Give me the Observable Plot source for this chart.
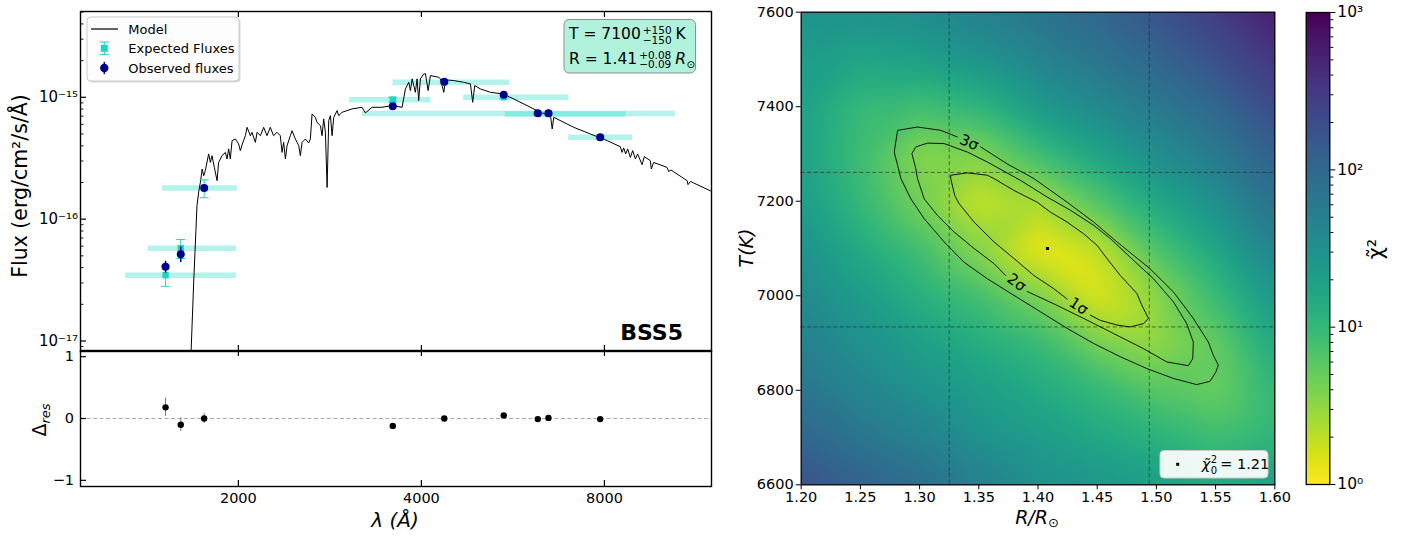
<!DOCTYPE html>
<html><head><meta charset="utf-8">
<script src="https://cdn.jsdelivr.net/npm/d3@7"></script>
<script src="https://cdn.jsdelivr.net/npm/@observablehq/plot@0.6"></script>
<style>
body{margin:0;background:#fff;}
#wrap{position:relative;width:1408px;height:537px;font-family:"DejaVu Sans",sans-serif;color:#000;overflow:hidden;background:#fff}
svg{overflow:visible}
</style></head><body><div id="wrap"></div>
<script>
// ---------------- SED data ----------------
const filterWave = [1518, 1608, 1757, 3589, 4362, 5464, 6216, 6472, 7872];
const bandLo = [1305, 1422, 1501, 3048, 3594, 4694, 3196, 5496, 6990];
const bandHi = [1985, 1987, 1992, 4150, 5593, 6993, 10470, 8685, 8904];
const obsFlux = [4.06e-17, 5.16e-17, 1.80e-16, 8.43e-16, 1.34e-15, 1.05e-15, 7.39e-16, 7.39e-16, 4.69e-16];
const obsErr = [0.45e-17, 0.75e-17, 0.8e-17, 1.0e-17, 1.5e-17, 1.2e-17, 0.8e-17, 0.8e-17, 0.6e-17];
const expFlux = [3.47e-17, 5.78e-17, 1.80e-16, 9.57e-16, 1.33e-15, 1.00e-15, 7.35e-16, 7.30e-16, 4.69e-16];
const expErr = [0.66e-17, 1.03e-17, 0.30e-16, 0.45e-16, 0.3e-16, 0.25e-16, 0.15e-16, 0.15e-16, 0.12e-16];
const residual = [0.18, -0.10, 0.00, -0.12, 0.00, 0.05, -0.01, 0.01, -0.01];
const residualErr = [0.15, 0.11, 0.08, 0.02, 0.015, 0.015, 0.01, 0.01, 0.01];

// model spectrum: wavelength (Å) and flux in units of 1e-16 erg/cm2/s/Å
const modelWave = [1671,1689,1703,1710,1722,1732,1744,1754,1765,1787,1799,1810,1826,1845,1856,1880,1904,1916,1928,1940,1953,1977,2002,2015,2033,2054,2067,2093,2106,2133,2147,2174,2201,2229,2257,2285,2315,2344,2360,2374,2390,2405,2435,2451,2482,2514,2529,2546,2578,2610,2627,2644,2677,2694,2729,2746,2763,2781,2799,2816,2834,2852,2870,2907,2924,2962,3076,3195,3235,3318,3446,3580,3718,3765,3813,3837,3862,3910,3935,3959,3985,4036,4062,4103,4139,4271,4299,4354,4382,4521,4695,4816,4858,4895,5001,5196,5431,5674,5968,6279,6522,6564,6603,7122,7585,8083,8497,8552,8604,8670,8736,8825,8903,8995,9072,9225,9306,9518,9555,9639,10141,10202,10296,10940,10980,11077,11946,12100];
const modelFlux16 = [0.075,0.311,0.802,1.29,1.71,2.00,2.58,2.27,2.50,3.43,2.92,3.32,2.66,2.07,2.92,3.32,3.53,3.12,3.77,3.12,4.41,4.55,4.14,3.65,4.22,4.84,5.67,4.84,5.16,4.27,5.16,4.84,5.67,4.84,5.67,4.84,5.16,4.84,3.53,4.27,3.12,4.01,4.84,5.32,4.55,4.01,3.32,4.27,4.55,4.22,4.55,7.30,6.85,6.23,5.85,4.84,6.65,5.16,1.82,6.44,7.07,4.84,6.85,7.78,7.07,7.53,8.03,8.28,7.44,8.28,8.28,8.55,8.28,11.72,13.28,11.35,14.17,10.99,14.17,9.40,14.17,15.57,15.57,11.35,15.08,14.6,14.17,10.99,13.9,13.72,13.28,12.89,9.10,12.48,11.72,10.99,10.67,9.70,8.55,7.53,7.07,5.50,6.85,5.67,5.00,4.41,3.93,3.53,3.84,3.43,3.77,3.21,3.65,3.12,3.43,2.80,3.26,3.02,2.58,2.92,2.66,2.46,2.53,2.07,1.92,2.04,1.71,1.66];

const sedXTicks = [2000, 4000, 8000];
const sedYTicks = [1e-17, 1e-16, 1e-15];
const resYTicks = [-1, 0, 1];
const starName = "BSS5";
const fitT = 7100, fitTp = 150, fitTm = 150;
const fitR = "1.41", fitRp = "0.08", fitRm = "0.09";

// ---------------- chi2 map data ----------------
const gridR = [1.20, 1.25, 1.30, 1.35, 1.40, 1.45, 1.50, 1.55, 1.60];
const gridT = [7600, 7500, 7400, 7300, 7200, 7100, 7000, 6900, 6800, 6700, 6600];
const chi2Rows = [
  [28, 30, 36, 50, 70, 105, 165, 290, 600],
  [22, 17, 20, 28, 45, 68, 105, 175, 340],
  [19, 9.5, 8, 11, 24, 38, 60, 100, 210],
  [19, 8.5, 3.4, 3.6, 8.5, 18, 33, 58, 125],
  [22, 10, 4.2, 1.7, 2.4, 6.5, 16, 32, 80],
  [30, 15, 8, 3.4, 1.15, 1.9, 7, 17, 48],
  [38, 22, 13, 8, 4.0, 1.4, 3.3, 9, 26],
  [50, 31, 20, 14, 9.5, 4.2, 3.0, 5, 16],
  [68, 44, 30, 21, 15, 10, 6, 4.8, 11],
  [105, 68, 48, 30, 22, 16, 12, 8.5, 11],
  [175, 120, 85, 50, 32, 26, 21, 16, 20]
];
const bestR = 1.408, bestT = 7100, bestChi2 = 1.21;
const sigmaR = [1.325, 1.494];
const sigmaT = [6934, 7261];
const contour1 = [[1.4442,6959],[1.4526,6948],[1.4667,6938],[1.4779,6934],[1.4891,6941],[1.4933,6952],[1.4877,6980],[1.4835,7005],[1.4695,7043],[1.4582,7079],[1.4498,7107],[1.4386,7131],[1.4246,7156],[1.4105,7177],[1.3993,7198],[1.3796,7223],[1.3628,7248],[1.3572,7255],[1.3404,7260],[1.3263,7255],[1.3263,7248],[1.3297,7212],[1.3333,7195],[1.3460,7156],[1.3628,7114],[1.3796,7079],[1.3965,7043],[1.4133,7015],[1.4246,6993]];
const contour2 = [[1.3909,7009],[1.4133,6983],[1.4386,6952],[1.4639,6920],[1.4891,6888],[1.5088,6860],[1.5270,6852],[1.5307,6867],[1.5312,6902],[1.5256,6941],[1.5144,6987],[1.4975,7036],[1.4807,7075],[1.4611,7121],[1.4470,7149],[1.4274,7181],[1.4077,7209],[1.3853,7244],[1.3572,7283],[1.3404,7304],[1.3207,7322],[1.3067,7323],[1.2968,7315],[1.2935,7301],[1.2968,7269],[1.2982,7248],[1.3039,7205],[1.3151,7170],[1.3291,7135],[1.3460,7100],[1.3628,7068],[1.3726,7043]];
const contour3 = [[1.3516,7315],[1.3740,7279],[1.3965,7248],[1.4246,7198],[1.4470,7156],[1.4667,7114],[1.4947,7057],[1.5144,7008],[1.5312,6952],[1.5439,6902],[1.5481,6874],[1.5523,6853],[1.5503,6839],[1.5453,6819],[1.5340,6812],[1.5144,6825],[1.4919,6846],[1.4695,6871],[1.4470,6899],[1.4246,6931],[1.4021,6966],[1.3796,7001],[1.3572,7036],[1.3375,7071],[1.3207,7114],[1.3039,7163],[1.2926,7205],[1.2842,7248],[1.2786,7304],[1.2814,7350],[1.2982,7357],[1.3179,7350],[1.3319,7336]];
const contourLabelText = ["1σ", "2σ", "3σ"];
const contourLabelR = [1.4344, 1.3819, 1.3418];
const contourLabelT = [6978, 7028, 7324];
const contourLabelAngle = [33, 36, 23];
const mapXTicks = [1.20, 1.25, 1.30, 1.35, 1.40, 1.45, 1.50, 1.55, 1.60];
const mapYTicks = [6600, 6800, 7000, 7200, 7400, 7600];
const cbarTicks = [1, 10, 100, 1000];

// ---------------- build ----------------
const FONT = "DejaVu Sans";
const TURQ = "#40e0d0", TURQ2 = "#22d3bd", NAVY = "#00008b";
const wrap = document.getElementById("wrap");
function place(svg, left, top){ svg.style.position="absolute"; svg.style.left=left+"px"; svg.style.top=top+"px"; wrap.appendChild(svg); }
const SUP = {"0":"⁰","1":"¹","2":"²","3":"³","4":"⁴","5":"⁵","6":"⁶","7":"⁷","8":"⁸","9":"⁹","-":"⁻"};
const pow10 = v => "10" + String(Math.round(Math.log10(v))).split("").map(c=>SUP[c]).join("");
const minus = d => d < 0 ? "−" + Math.abs(d) : String(d);
const capSym = {draw(ctx, size){ const w = Math.sqrt(size); ctx.moveTo(-w,0); ctx.lineTo(w,0); }};
const capR = 4.5 / Math.sqrt(Math.PI);

const pts = filterWave.map((w,i)=>({w, lo:bandLo[i], hi:bandHi[i], obs:obsFlux[i], oe:obsErr[i], exp:expFlux[i], ee:expErr[i], res:residual[i], re:residualErr[i]}));
const model = modelWave.map((w,i)=>({w, f:modelFlux16[i]*1e-16}));

const xDom = [1100, 12000];
const topW = 720, topH = 351, mL = 80, mR = 9, mT = 11;
const topFW = topW - mL - mR, topFH = topH - mT;
const minorY = [];
for (let e = -18; e <= -15; e++) for (let m = 2; m <= 9; m++) { const v = m * Math.pow(10, e); if (v > 8.2e-18 && v < 5.06e-15) minorY.push(v); }

const topPlot = Plot.plot({
  width: topW, height: topH, marginLeft: mL, marginRight: mR, marginTop: mT, marginBottom: 0,
  style: {fontFamily: FONT, fontSize: "14.5px", color: "black", background: "transparent"},
  x: {type: "log", domain: xDom, axis: null},
  y: {type: "log", domain: [8.2e-18, 5.06e-15]},
  marks: [
    Plot.ruleY(pts, {x1: "lo", x2: "hi", y: "exp", stroke: TURQ, strokeOpacity: 0.4, strokeWidth: 5.5}),
    Plot.line(model, {x: "w", y: "f", stroke: "black", strokeWidth: 1, clip: true}),
    Plot.ruleX(pts, {x: "w", y1: d=>d.exp-d.ee, y2: d=>d.exp+d.ee, stroke: TURQ2, strokeWidth: 1}),
    Plot.dot(pts, {x: "w", y: d=>d.exp-d.ee, symbol: capSym, r: capR, stroke: TURQ2, strokeWidth: 1, fill: "none"}),
    Plot.dot(pts, {x: "w", y: d=>d.exp+d.ee, symbol: capSym, r: capR, stroke: TURQ2, strokeWidth: 1, fill: "none"}),
    Plot.dot(pts, {x: "w", y: "exp", symbol: "square", r: 3.6, fill: TURQ2, stroke: "none"}),
    Plot.ruleX(pts, {x: "w", y1: d=>d.obs-d.oe, y2: d=>d.obs+d.oe, stroke: NAVY, strokeWidth: 1.5}),
    Plot.dot(pts, {x: "w", y: "obs", r: 4, fill: NAVY, stroke: "none"}),
    Plot.tickY(sedYTicks, {y: d=>d, insetRight: topFW - 6, stroke: "black", strokeWidth: 1.2}),
    Plot.tickY(minorY, {y: d=>d, insetRight: topFW - 3.5, stroke: "black", strokeWidth: 0.9}),
    Plot.tickX(sedXTicks, {x: d=>d, insetBottom: topFH - 6, stroke: "black", strokeWidth: 1.2}),
    Plot.tickX(sedXTicks, {x: d=>d, insetTop: topFH - 6, stroke: "black", strokeWidth: 1.2}),
    Plot.frame({stroke: "black", strokeWidth: 1.4}),
    Plot.axisY({ticks: sedYTicks, tickFormat: pow10, tickSize: 0, tickPadding: 2.5, fontSize: 15, label: null})
  ]
});
place(topPlot, 0, 0);

const botH = 187, botMB = 51, botFH = botH - botMB;
const botPlot = Plot.plot({
  width: topW, height: botH, marginLeft: mL, marginRight: mR, marginTop: 0, marginBottom: botMB,
  style: {fontFamily: FONT, fontSize: "14.5px", color: "black", background: "transparent"},
  x: {type: "log", domain: xDom},
  y: {domain: [-1.1, 1.1]},
  marks: [
    Plot.ruleY([0], {stroke: "#aaaaaa", strokeWidth: 1, strokeDasharray: "4,2.5"}),
    Plot.ruleX(pts, {x: "w", y1: d=>d.res-d.re, y2: d=>d.res+d.re, stroke: "#777", strokeWidth: 1}),
    Plot.dot(pts, {x: "w", y: "res", r: 3.2, fill: "black", stroke: "none"}),
    Plot.tickY(resYTicks, {y: d=>d, insetRight: topFW - 6, stroke: "black", strokeWidth: 1.2}),
    Plot.tickX(sedXTicks, {x: d=>d, insetBottom: botFH - 6, stroke: "black", strokeWidth: 1.2}),
    Plot.tickX(sedXTicks, {x: d=>d, insetTop: botFH - 6, stroke: "black", strokeWidth: 1.2}),
    Plot.frame({stroke: "black", strokeWidth: 1.4}),
    Plot.axisY({ticks: resYTicks, tickFormat: minus, tickSize: 0, tickPadding: 6.5, fontSize: 14.5, label: null}),
    Plot.axisX({ticks: sedXTicks, tickFormat: d=>String(d), tickSize: 0, tickPadding: 6, fontSize: 14.5, label: null})
  ]
});
place(botPlot, 0, 350);

// chi2 map (coloured by log10 chi2, matching the log colourbar)
const grid = [];
gridT.forEach((T, i) => gridR.forEach((R, j) => grid.push({R, T, c: chi2Rows[i][j]})));
grid.push({R: bestR, T: bestT, c: bestChi2});
const contours = [];
[contour1, contour2, contour3].forEach((c, k) => c.forEach(([R, T]) => contours.push({R, T, z: k})));
const cLabels = contourLabelText.map((s, i) => ({s, R: contourLabelR[i], T: contourLabelT[i], a: contourLabelAngle[i]}));
const colorOpts = {type: "linear", domain: [0, 3], scheme: "viridis", reverse: true};

const mapPlot = Plot.plot({
  width: 600, height: 537, marginLeft: 100.7, marginRight: 25.7, marginTop: 11.7, marginBottom: 52.7,
  style: {fontFamily: FONT, fontSize: "14.5px", color: "black", background: "transparent"},
  x: {domain: [1.2, 1.6]},
  y: {domain: [6600, 7600]},
  color: colorOpts,
  marks: [
    Plot.raster(grid, {x: "R", y: "T", fill: d => Math.log10(d.c), interpolate: "barycentric", blur: 10, x1: 1.2, x2: 1.6, y1: 6600, y2: 7600}),
    Plot.ruleX(sigmaR, {stroke: "#222", strokeOpacity: 0.6, strokeWidth: 1, strokeDasharray: "4,2.5"}),
    Plot.ruleY(sigmaT, {stroke: "#222", strokeOpacity: 0.6, strokeWidth: 1, strokeDasharray: "4,2.5"}),
    Plot.line(contours, {x: "R", y: "T", z: "z", stroke: "black", strokeWidth: 0.9}),
    Plot.text(cLabels, {x: "R", y: "T", text: "s", rotate: "a", fontSize: 15, fill: "black"}),
    Plot.dot([{R: bestR, T: bestT}], {x: "R", y: "T", symbol: "square", r: 1.7, fill: "black", stroke: "none"}),
    Plot.frame({stroke: "black", strokeWidth: 1.3}),
    Plot.axisX({ticks: mapXTicks, tickFormat: d3.format(".2f"), tickSize: 5, tickPadding: 2, fontSize: 14.5, label: null}),
    Plot.axisY({ticks: mapYTicks, tickFormat: d=>String(d), tickSize: 5, tickPadding: 2.5, fontSize: 14.5, label: null})
  ]
});
place(mapPlot, 700, 0);

const cbMinor = [];
for (let e = 0; e < 3; e++) for (let m = 2; m <= 9; m++) cbMinor.push(m * Math.pow(10, e));
const cbar = Plot.plot({
  width: 108, height: 537, marginLeft: 5.7, marginRight: 78.7, marginTop: 12, marginBottom: 53,
  style: {fontFamily: FONT, fontSize: "15px", color: "black", background: "transparent"},
  x: {domain: [0, 1], axis: null},
  y: {type: "log", domain: [1, 1000]},
  color: colorOpts,
  marks: [
    Plot.raster({x1: 0, x2: 1, y1: 1, y2: 1000, fill: (x, y) => Math.log10(y)}),
    Plot.frame({stroke: "black", strokeWidth: 1.3}),
    Plot.axisY({anchor: "right", ticks: cbarTicks, tickFormat: pow10, tickSize: 5, tickPadding: 2.5, fontSize: 15.5, label: null}),
    Plot.axisY({anchor: "right", ticks: cbMinor, tickFormat: () => "", tickSize: 3, label: null})
  ]
});
place(cbar, 1300, 0);

// ---------------- overlay text & legends ----------------
const NS = "http://www.w3.org/2000/svg";
const ov = document.createElementNS(NS, "svg");
ov.setAttribute("width", 1408); ov.setAttribute("height", 537);
ov.style.cssText = "position:absolute;left:0;top:0;font-family:'DejaVu Sans';";
wrap.appendChild(ov);
function el(tag, attrs, parent = ov){ const e = document.createElementNS(NS, tag); for (const k in attrs) e.setAttribute(k, attrs[k]); parent.appendChild(e); return e; }
function tx(x, y, str, size, extra = {}, parent = ov){ const e = el("text", {x, y, "font-size": size, fill: "black", ...extra}, parent); e.textContent = str; return e; }
const wd = e => e.getComputedTextLength();

// SED legend
el("rect", {x: 88.5, y: 18.5, width: 152, height: 64, rx: 4, fill: "#000", "fill-opacity": 0.15});
el("rect", {x: 87, y: 17, width: 152, height: 64, rx: 4, fill: "#fff", "fill-opacity": 0.95, stroke: "#cccccc", "stroke-width": 1});
el("line", {x1: 91, x2: 118, y1: 29, y2: 29, stroke: "black", "stroke-width": 1.2});
tx(128.3, 33.5, "Model", 13);
el("line", {x1: 104.3, x2: 104.3, y1: 42, y2: 54.3, stroke: TURQ2, "stroke-width": 1});
el("line", {x1: 99.5, x2: 109, y1: 42, y2: 42, stroke: TURQ2, "stroke-width": 1});
el("line", {x1: 99.5, x2: 109, y1: 54.3, y2: 54.3, stroke: TURQ2, "stroke-width": 1});
el("rect", {x: 100.8, y: 44.8, width: 7, height: 7, fill: TURQ2});
tx(128.3, 52.8, "Expected Fluxes", 13);
el("line", {x1: 104.3, x2: 104.3, y1: 62, y2: 74, stroke: NAVY, "stroke-width": 1.5});
el("circle", {cx: 104.3, cy: 68, r: 4.2, fill: NAVY});
tx(128.3, 72.5, "Observed fluxes", 13);

// fit annotation box
el("rect", {x: 564, y: 19.5, width: 131.5, height: 53.5, rx: 5, fill: "#b0f2dc", stroke: "#8f8f8f", "stroke-width": 1});
{
  const a = tx(569, 39.3, "T = " + fitT, 15.5);
  const x0 = 569 + wd(a) + 2;
  const s1 = tx(x0, 34, "+" + fitTp, 10.5), s2 = tx(x0, 43.5, "−" + fitTm, 10.5);
  const x1 = x0 + Math.max(wd(s1), wd(s2)) + 4;
  tx(x1, 39.3, "K", 15.5);
  const b = tx(569, 64, "R = " + fitR, 15.5);
  const y0 = 569 + wd(b) + 2;
  const r1 = tx(y0, 58.5, "+" + fitRp, 10.5), r2 = tx(y0, 67.8, "−" + fitRm, 10.5);
  const y1 = y0 + Math.max(wd(r1), wd(r2)) + 4;
  const rr = tx(y1, 64, "R", 15.5, {"font-style": "italic"});
  tx(y1 + wd(rr) + 0.5, 67.5, "⊙", 10.5);
}
tx(683, 340, starName, 22, {"font-weight": "bold", "text-anchor": "end"});

// axis labels (left)
tx(0, 0, "Flux (erg/cm²/s/Å)", 20.5, {"text-anchor": "middle", transform: "translate(27,186) rotate(-90)"});
{
  const d = el("text", {x: 0, y: 0, "font-size": 19, "text-anchor": "middle", transform: "translate(46,420) rotate(-90)"});
  d.textContent = "Δ";
  const s = el("tspan", {"font-size": 13, "font-style": "italic", dy: 4}, d); s.textContent = "res";
}
tx(395, 527, "λ (Å)", 20, {"text-anchor": "middle", "font-style": "italic"});

// axis labels (right)
tx(0, 0, "T(K)", 19, {"text-anchor": "middle", "font-style": "italic", transform: "translate(753,248) rotate(-90)"});
{
  const r = el("text", {x: 1037, y: 524, "font-size": 19, "text-anchor": "middle", "font-style": "italic"});
  r.textContent = "R/R";
  const s = el("tspan", {"font-size": 13, "font-style": "normal", dy: 3}, r); s.textContent = "⊙";
}
tx(0, 0, "χ̃²", 21, {"text-anchor": "middle", transform: "translate(1383,249) rotate(-90)"});

// map legend
el("rect", {x: 1160, y: 450.5, width: 108, height: 27.5, rx: 4, fill: "#fff", "fill-opacity": 0.92, stroke: "#cccccc", "stroke-width": 1});
el("rect", {x: 1176.2, y: 462.8, width: 3, height: 3, fill: "black"});
{
  const c = tx(1201.7, 469, "χ̃", 14.5, {"font-style": "italic"});
  const cx = 1201.7 + wd(c) + 0.5;
  const s1 = tx(cx, 462.5, "2", 10), s2 = tx(cx, 473.5, "0", 10);
  tx(cx + Math.max(wd(s1), wd(s2)) + 3, 469, "= " + bestChi2.toFixed(2), 14.5);
}
</script></body></html>
